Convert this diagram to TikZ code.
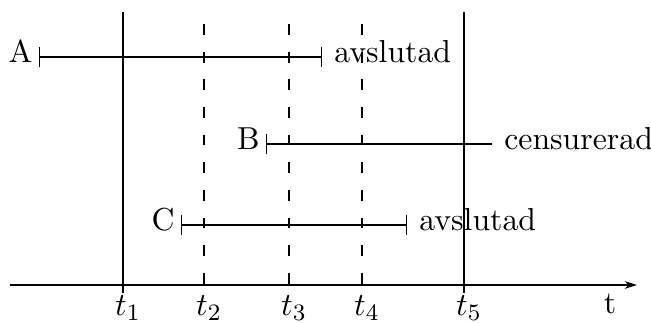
\documentclass[tikz,border=0pt]{standalone}
\usetikzlibrary{arrows.meta}
\begin{document}
\begin{tikzpicture}[x=0.34pt,y=-0.34pt,line join=round,font=\fontsize{10.8}{13}\selectfont,
  >={Stealth[length=4.2pt,width=2.6pt]},
  timeline/.style={line width=0.4pt},
  dashline/.style={line width=0.4pt,dash pattern=on 3.7pt off 5.7pt},
  lifespan/.style={line width=0.4pt,arrows={Bar[width=7pt]-Bar[width=7pt]}},
  censored/.style={line width=0.4pt,arrows={Bar[width=7pt]-}},
  caselabel/.style={anchor=base east,inner sep=2pt,yshift=-2pt},
  statuslabel/.style={anchor=base west,inner sep=4pt,yshift=-2pt},
  timelabel/.style={anchor=base,inner sep=0pt}]
	\useasboundingbox (0,0) rectangle (651,322);
	\coordinate (O) at (10,285);
	\coordinate (T) at (637,285);
	\draw[->,timeline] (O) -- (T);
	\node[anchor=base] (tname) at (610,313) {t};
	\coordinate (t1u) at (123,12);  \coordinate (t1d) at (123,293);
	\coordinate (t2u) at (204,24);  \coordinate (t2d) at (204,293);
	\coordinate (t3u) at (289,24);  \coordinate (t3d) at (289,293);
	\coordinate (t4u) at (362,24);  \coordinate (t4d) at (362,293);
	\coordinate (t5u) at (464,12);  \coordinate (t5d) at (464,293);
	\draw[timeline] (t1u) -- (t1d) (t5u) -- (t5d);
	\draw[dashline] (t2u) -- (t2d) (t3u) -- (t3d) (t4u) -- (t4d);
	\node[timelabel] (t1) at (128,315.5) {$t_1$};
	\node[timelabel] (t2) at (209,315.5) {$t_2$};
	\node[timelabel] (t3) at (294,315.5) {$t_3$};
	\node[timelabel] (t4) at (367,315.5) {$t_4$};
	\node[timelabel] (t5) at (469,315.5) {$t_5$};
	\coordinate (As) at (39,57);   \coordinate (Ae) at (322,57);
	\coordinate (Bs) at (266,144); \coordinate (Be) at (492,144);
	\coordinate (Cs) at (181,225); \coordinate (Ce) at (407,225);
	\draw[lifespan] (As) -- (Ae);
	\draw[censored] (Bs) -- (Be);
	\draw[lifespan] (Cs) -- (Ce);
	\node[caselabel] (A) at (As) {A};
	\node[caselabel] (B) at (Bs) {B};
	\node[caselabel] (C) at (Cs) {C};
	\node[statuslabel] (Aend) at (Ae) {avslutad};
	\node[statuslabel] (Bend) at (Be) {censurerad};
	\node[statuslabel] (Cend) at (Ce) {avslutad};
\end{tikzpicture}
\end{document}
